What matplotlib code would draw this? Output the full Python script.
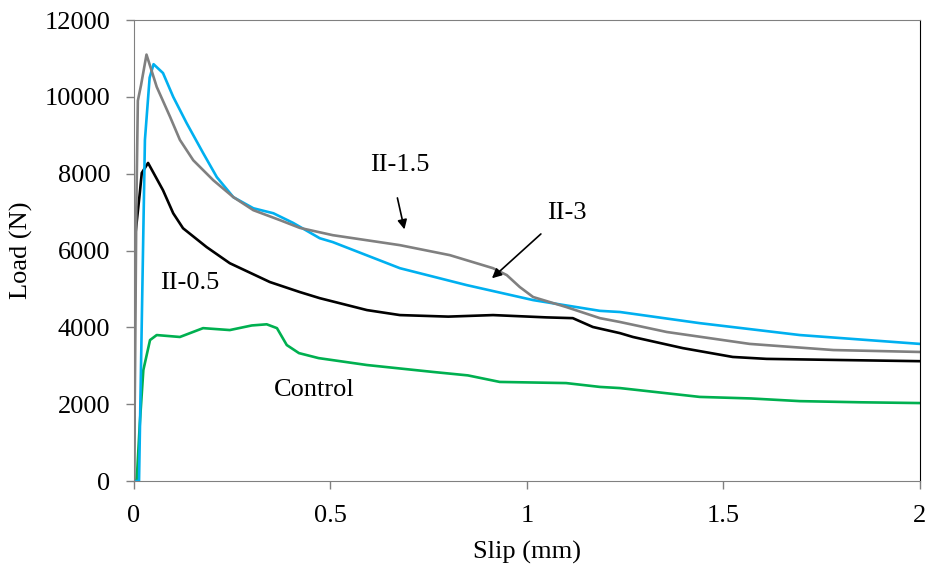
import matplotlib.pyplot as plt

# Load-slip curves
ctrl_slip = [0, 0.007, 0.015, 0.024, 0.041, 0.058, 0.117, 0.176, 0.244, 0.30, 0.338, 0.364, 0.389,
             0.42, 0.47, 0.593, 0.761, 0.85, 0.931, 1.10, 1.186, 1.237, 1.44, 1.57, 1.695, 1.85, 2.0]
ctrl_load = [0, 0, 1500, 2890, 3670, 3800, 3750, 3980, 3930, 4050, 4080, 3980, 3540,
             3330, 3200, 3020, 2840, 2750, 2580, 2550, 2450, 2420, 2190, 2150, 2080, 2050, 2030]

s05_slip = [0, 0.003, 0.015, 0.02, 0.036, 0.074, 0.10, 0.125, 0.185, 0.244, 0.346, 0.422, 0.473,
            0.593, 0.677, 0.80, 0.914, 1.05, 1.117, 1.168, 1.237, 1.27, 1.397, 1.524, 1.61, 1.8, 2.0]
s05_load = [0, 6350, 7500, 8020, 8280, 7570, 6970, 6580, 6090, 5670, 5180, 4920, 4760,
            4450, 4320, 4280, 4320, 4260, 4240, 4010, 3850, 3750, 3460, 3230, 3180, 3150, 3120]

s15_slip = [0, 0.003, 0.006, 0.01, 0.018, 0.032, 0.058, 0.092, 0.117, 0.151, 0.202, 0.253, 0.304,
            0.372, 0.422, 0.506, 0.677, 0.804, 0.914, 0.949, 0.982, 1.016, 1.10, 1.186, 1.237,
            1.356, 1.567, 1.78, 2.0]
s15_load = [0, 3000, 7000, 9900, 10300, 11100, 10260, 9480, 8880, 8350, 7830, 7390, 7050,
            6790, 6590, 6400, 6140, 5880, 5540, 5360, 5050, 4790, 4530, 4240, 4140,
            3880, 3570, 3410, 3360]

s3_slip = [0, 0.013, 0.028, 0.04, 0.05, 0.074, 0.10, 0.134, 0.176, 0.211, 0.253, 0.304, 0.355,
           0.405, 0.473, 0.506, 0.677, 0.847, 1.016, 1.186, 1.237, 1.44, 1.695, 2.0]
s3_load = [0, 0, 8880, 10500, 10850, 10620, 10000, 9320, 8540, 7910, 7390, 7100, 6970,
           6720, 6320, 6220, 5540, 5100, 4710, 4430, 4400, 4110, 3800, 3570]

FS = 19

plt.rcParams['font.family'] = ['Liberation Serif', 'DejaVu Serif']
fig = plt.figure(figsize=(9.3, 5.72), dpi=100)
ax = fig.add_axes([0.144, 0.159, 0.845, 0.806])

ax.plot(ctrl_slip, ctrl_load, color='#00B050', lw=1.9)
ax.plot(s05_slip, s05_load, color='black', lw=1.9)
ax.plot(s3_slip, s3_load, color='#00B0F0', lw=1.9)
ax.plot(s15_slip, s15_load, color='#808080', lw=1.9)

ax.set_xlim(0, 2)
ax.set_ylim(0, 12000)
ax.set_xticks([0, 0.5, 1, 1.5, 2])
ax.set_xticklabels(['0', '0.5', '1', '1.5', '2'])
ax.set_yticks(range(0, 12001, 2000))
ax.set_xlabel('Slip (mm)', fontsize=FS, labelpad=10)
ax.set_ylabel('Load (N)', fontsize=FS, labelpad=8)
ax.tick_params(labelsize=FS, direction='out', length=6, color='#808080', width=1)
ax.tick_params(axis='x', pad=11)
ax.tick_params(axis='y', pad=11)

for side in ['left', 'bottom', 'top']:
    ax.spines[side].set_color('#808080')
ax.spines['right'].set_color('black')

# labels and arrows
ax.text(0.142, 5150, 'II-0.5', fontsize=FS, ha='center', va='center')
ax.text(0.46, 2370, 'Control', fontsize=FS, ha='center', va='center')
ax.text(0.677, 8225, 'II-1.5', fontsize=FS, ha='center', va='center')
ax.text(1.102, 6975, 'II-3', fontsize=FS, ha='center', va='center')
ax.annotate('', xy=(0.690, 6480), xytext=(0.669, 7440),
            arrowprops=dict(arrowstyle='-|>', color='black', lw=1.2, mutation_scale=14))
ax.annotate('', xy=(0.906, 5230), xytext=(1.041, 6480),
            arrowprops=dict(arrowstyle='-|>', color='black', lw=1.2, mutation_scale=14))

plt.savefig('out.png', dpi=100)
